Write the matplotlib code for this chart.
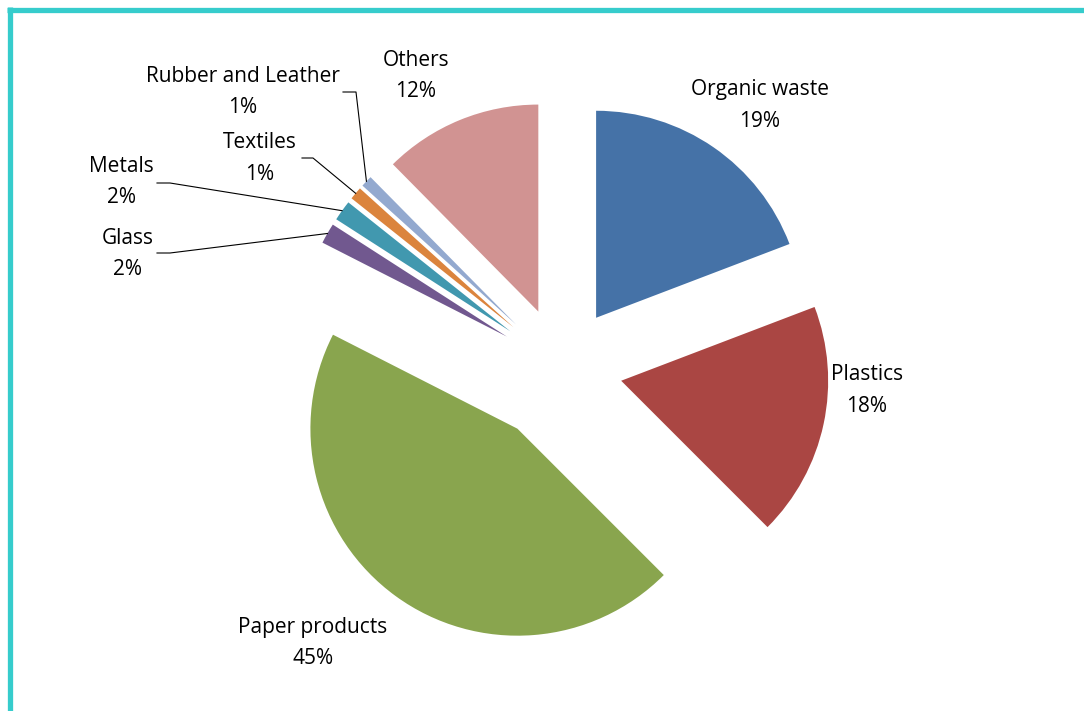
import matplotlib
matplotlib.use("Agg")
import matplotlib.pyplot as plt
import numpy as np
from matplotlib.lines import Line2D

# Composition of municipal solid waste (% by weight)
categories = ["Organic waste", "Plastics", "Paper products", "Glass",
              "Metals", "Textiles", "Rubber and Leather", "Others"]
shares = [19.2, 18.3, 45.0, 1.6, 1.6, 1.0, 0.9, 12.4]
colors = ["#4572A7", "#AA4643", "#89A54E", "#71588F",
          "#4198AF", "#DB843D", "#93A9CF", "#D19392"]
# slice offsets from the centre, in drawing units
explode = [61, 61, 75, 63, 63, 63, 63, 61]

W, H = 1084, 711
fig = plt.figure(figsize=(W / 100, H / 100), dpi=100)
ax = fig.add_axes([0, 0, 1, 1])

radius = 207
center = (561.5, H - 368)
wedges, _ = ax.pie(shares, colors=colors, explode=explode, startangle=90,
                   counterclock=False, radius=radius, center=center,
                   wedgeprops=dict(linewidth=0))
ax.set_xlim(0, W)
ax.set_ylim(0, H)
ax.set_aspect("equal")
ax.axis("off")

font = dict(family="Open Sans", fontsize=15, color="#000000")

# label anchor positions (x, y of the first line, screen-style y)
label_pos = {
    "Organic waste": (760, 90),
    "Plastics": (867, 375),
    "Paper products": (313, 627),
    "Others": (416, 60),
    "Rubber and Leather": (243, 76),
    "Textiles": (260, 143),
    "Metals": (121, 166),
    "Glass": (128, 238),
}
line_gap = 31.5

for name, val in zip(categories, shares):
    x, y = label_pos[name]
    ax.text(x, H - y, name, ha="center", va="center", **font)
    ax.text(x, H - y - line_gap, f"{val:.0f}%", ha="center", va="center", **font)

# leader lines for the thin slices: label elbow -> outer arc midpoint
leader_start = {
    "Rubber and Leather": [(343, 92), (356, 92)],
    "Textiles": [(302, 158), (313, 158)],
    "Metals": [(157, 183), (170, 183)],
    "Glass": [(157, 253), (170, 253)],
}
for w, name in zip(wedges, categories):
    if name not in leader_start:
        continue
    mid = np.deg2rad((w.theta1 + w.theta2) / 2)
    ex = w.center[0] + w.r * np.cos(mid)
    ey = w.center[1] + w.r * np.sin(mid)
    pts = leader_start[name]
    xs = [p[0] for p in pts] + [ex]
    ys = [H - p[1] for p in pts] + [ey]
    ax.plot(xs, ys, color="black", lw=0.8)

# teal frame along top and left edges
teal = "#36CCCC"
fig.add_artist(Line2D([7 / W, 1], [1 - 9.5 / H, 1 - 9.5 / H],
                      transform=fig.transFigure, color=teal, lw=3.8,
                      solid_capstyle="butt"))
fig.add_artist(Line2D([9.5 / W, 9.5 / W], [0, 1 - 7 / H],
                      transform=fig.transFigure, color=teal, lw=3.8,
                      solid_capstyle="butt"))

fig.savefig("out.png", dpi=100, facecolor="white")
